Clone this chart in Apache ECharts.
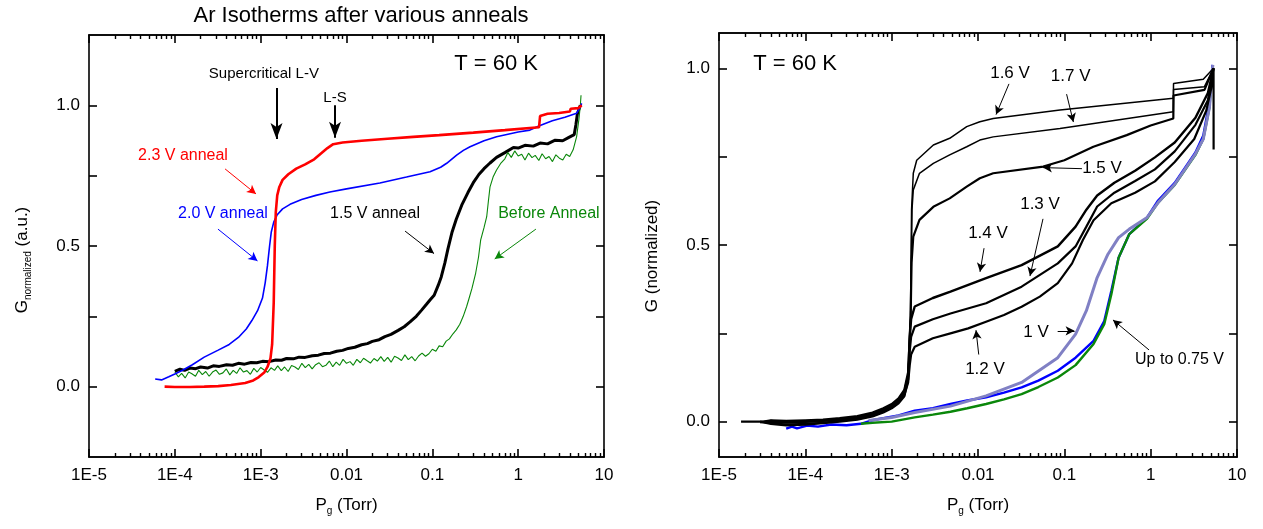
<!DOCTYPE html>
<html>
<head>
<meta charset="utf-8">
<title>Ar isotherms</title>
<script src="https://cdn.jsdelivr.net/npm/echarts@6/dist/echarts.min.js"></script>
<style>
  html, body { margin: 0; padding: 0; background: #fff; }
  #chart { width: 1263px; height: 529px; }
</style>
</head>
<body>
<div id="chart"></div>
<script>
// ---- tick labels ----
const DECADE_LABELS = ['1E-5', '1E-4', '1E-3', '0.01', '0.1', '1', '10'];
const G_TICKS = [0, 0.25, 0.5, 0.75, 1.0];
const G_LABELS = [0, 0.5, 1.0];

// ---- left panel: isotherms after anneals, [P (Torr), G normalized] ----
const anneal23 = [[7.6e-5,0.0],[1.0e-4,-0.001],[1.5e-4,-0.001],[2.2e-4,0.0],[3.2e-4,0.002],[4.5e-4,0.006],[6.6e-4,0.013],[8.2e-4,0.022],[9.5e-4,0.034],[1.1e-3,0.05],[1.2e-3,0.07],[1.3e-3,0.1],[1.36e-3,0.15],[1.42e-3,0.3],[1.46e-3,0.5],[1.5e-3,0.62],[1.56e-3,0.68],[1.65e-3,0.71],[1.8e-3,0.735],[2.1e-3,0.755],[2.6e-3,0.775],[3.3e-3,0.79],[4.2e-3,0.808],[5.0e-3,0.828],[6.0e-3,0.848],[7.0e-3,0.862],[9.0e-3,0.868],[0.015,0.874],[0.03,0.881],[0.06,0.888],[0.12,0.894],[0.3,0.903],[0.7,0.912],[1.75,0.922],[1.8,0.962],[2.2,0.97],[3.0,0.973],[4.0,0.978],[4.1,0.988],[5.0,0.99],[5.5,1.0]];
const anneal20 = [[5.9e-5,0.027],[7e-5,0.024],[8.5e-5,0.035],[1.0e-4,0.045],[1.26e-4,0.06],[1.6e-4,0.078],[2.2e-4,0.105],[3.2e-4,0.13],[4.3e-4,0.15],[5.5e-4,0.175],[6.8e-4,0.205],[7.9e-4,0.235],[9.2e-4,0.27],[1.05e-3,0.315],[1.13e-3,0.37],[1.2e-3,0.43],[1.27e-3,0.5],[1.33e-3,0.55],[1.42e-3,0.585],[1.55e-3,0.61],[1.8e-3,0.632],[2.2e-3,0.648],[3.0e-3,0.665],[4.4e-3,0.68],[6.4e-3,0.692],[0.01,0.703],[0.0245,0.724],[0.05,0.745],[0.094,0.764],[0.125,0.78],[0.147,0.794],[0.192,0.823],[0.23,0.84],[0.275,0.853],[0.4,0.874],[0.56,0.888],[1.0,0.905],[1.37,0.912],[1.8,0.928],[2.5,0.945],[3.5,0.958],[4.8,0.972],[5.2,0.99],[5.5,1.007]];
const anneal15 = [[1.0e-4,0.054],[1.15e-4,0.062],[1.3e-4,0.058],[1.5e-4,0.066],[1.75e-4,0.064],[2e-4,0.07],[2.4e-4,0.066],[2.8e-4,0.074],[3.3e-4,0.072],[4e-4,0.078],[4.7e-4,0.076],[5.5e-4,0.083],[6.5e-4,0.08],[7.7e-4,0.086],[9e-4,0.085],[1.05e-3,0.09],[1.25e-3,0.089],[1.5e-3,0.095],[1.75e-3,0.094],[2e-3,0.1],[2.4e-3,0.099],[2.8e-3,0.105],[3.3e-3,0.104],[4e-3,0.11],[4.7e-3,0.112],[5.5e-3,0.118],[6.5e-3,0.119],[7.7e-3,0.126],[9e-3,0.129],[0.0105,0.136],[0.0125,0.14],[0.015,0.149],[0.0175,0.153],[0.02,0.161],[0.024,0.167],[0.028,0.178],[0.033,0.186],[0.04,0.2],[0.047,0.213],[0.055,0.23],[0.065,0.25],[0.075,0.272],[0.085,0.292],[0.095,0.31],[0.105,0.325],[0.117,0.36],[0.127,0.39],[0.14,0.44],[0.152,0.49],[0.17,0.55],[0.19,0.595],[0.22,0.645],[0.26,0.69],[0.3,0.725],[0.35,0.755],[0.4,0.775],[0.47,0.795],[0.56,0.815],[0.7,0.832],[0.88,0.85],[1.0,0.848],[1.2,0.858],[1.5,0.855],[1.8,0.866],[2.2,0.863],[2.7,0.876],[3.3,0.874],[4.0,0.888],[4.5,0.896],[4.7,0.93],[4.9,0.97],[5.3,1.0]];
const beforeAnneal = [[1.0e-4,0.052],[1.1e-4,0.035],[1.2e-4,0.047],[1.32e-4,0.031],[1.45e-4,0.052],[1.58e-4,0.046],[1.74e-4,0.037],[1.9e-4,0.058],[2.09e-4,0.043],[2.29e-4,0.054],[2.51e-4,0.037],[2.75e-4,0.052],[3.02e-4,0.059],[3.31e-4,0.044],[3.63e-4,0.049],[3.98e-4,0.063],[4.37e-4,0.042],[4.79e-4,0.058],[5.25e-4,0.047],[5.75e-4,0.067],[6.31e-4,0.052],[6.92e-4,0.057],[7.59e-4,0.044],[8.32e-4,0.065],[9.12e-4,0.052],[1.0e-3,0.068],[1.1e-3,0.059],[1.2e-3,0.051],[1.32e-3,0.067],[1.45e-3,0.058],[1.58e-3,0.074],[1.74e-3,0.057],[1.9e-3,0.07],[2.09e-3,0.054],[2.29e-3,0.075],[2.51e-3,0.07],[2.75e-3,0.061],[3.02e-3,0.083],[3.31e-3,0.068],[3.63e-3,0.079],[3.98e-3,0.063],[4.37e-3,0.078],[4.79e-3,0.085],[5.25e-3,0.071],[5.75e-3,0.076],[6.31e-3,0.091],[6.92e-3,0.071],[7.59e-3,0.087],[8.32e-3,0.076],[9.12e-3,0.097],[0.01,0.083],[0.011,0.089],[0.012,0.076],[0.0132,0.097],[0.0145,0.085],[0.0158,0.101],[0.0174,0.092],[0.019,0.084],[0.0209,0.1],[0.0229,0.091],[0.0251,0.107],[0.0275,0.09],[0.0302,0.104],[0.0331,0.087],[0.0363,0.108],[0.0398,0.102],[0.0437,0.093],[0.0479,0.113],[0.0525,0.096],[0.0575,0.107],[0.0631,0.092],[0.0692,0.109],[0.0759,0.119],[0.0832,0.108],[0.0912,0.117],[0.1,0.133],[0.11,0.126],[0.12,0.145],[0.132,0.142],[0.145,0.162],[0.158,0.17],[0.174,0.188],[0.19,0.202],[0.209,0.222],[0.229,0.25],[0.251,0.285],[0.265,0.309],[0.29,0.35],[0.32,0.404],[0.345,0.46],[0.366,0.522],[0.4,0.565],[0.43,0.604],[0.45,0.66],[0.47,0.71],[0.51,0.745],[0.56,0.77],[0.63,0.795],[0.7,0.81],[0.759,0.832],[0.832,0.815],[0.912,0.838],[1.0,0.82],[1.1,0.826],[1.2,0.806],[1.32,0.83],[1.45,0.814],[1.58,0.822],[1.74,0.804],[1.9,0.828],[2.09,0.81],[2.29,0.818],[2.51,0.8],[2.75,0.824],[3.02,0.812],[3.31,0.806],[3.63,0.826],[3.98,0.818],[4.37,0.842],[4.8,0.889],[5.1,0.95],[5.3,1.0],[5.4,1.036]];

// ---- right panel: isotherms after successive anneal voltages ----
const upTo075Blue = [[6e-5,-0.02],[7e-5,-0.014],[8e-5,-0.019],[1.05e-4,-0.011],[1.4e-4,-0.014],[2e-4,-0.008],[3e-4,-0.01],[4.4e-4,-0.006],[6e-4,0.004],[8e-4,0.01],[1.2e-3,0.018],[1.85e-3,0.031],[3e-3,0.038],[4.8e-3,0.05],[7.5e-3,0.06],[0.0124,0.069],[0.02,0.082],[0.032,0.097],[0.05,0.116],[0.084,0.144],[0.135,0.181],[0.218,0.229],[0.29,0.285],[0.35,0.37],[0.425,0.464],[0.566,0.531],[0.91,0.578],[1.22,0.626],[1.9,0.676],[3.3,0.762],[4.07,0.81],[4.8,0.905],[5.2,1.01]];
const upTo075Green = [[4.4e-4,-0.006],[6e-4,-0.003],[1e-3,0.0],[1.85e-3,0.012],[3e-3,0.02],[4.8e-3,0.028],[7.5e-3,0.038],[0.0124,0.05],[0.02,0.063],[0.032,0.078],[0.05,0.098],[0.084,0.125],[0.135,0.16],[0.218,0.22],[0.29,0.276],[0.35,0.36],[0.425,0.464],[0.566,0.531],[0.91,0.575],[1.22,0.62],[1.9,0.67],[3.3,0.755],[4.07,0.8],[4.8,0.89],[5.2,1.0]];
const anneal1V = [[5.4e-4,0.003],[1e-3,0.012],[1.85e-3,0.026],[4.8e-3,0.044],[0.0124,0.073],[0.032,0.111],[0.084,0.181],[0.135,0.248],[0.18,0.314],[0.24,0.408],[0.32,0.474],[0.425,0.521],[0.566,0.545],[0.91,0.578],[1.22,0.62],[1.9,0.672],[3.3,0.758],[4.07,0.8],[4.8,0.89],[5.25,1.01]];
const anneal12V = [[1.8e-5,0.0],[3e-5,0.0],[4e-5,-0.004],[6e-5,-0.008],[1e-4,-0.006],[1.6e-4,-0.003],[2.5e-4,0.002],[4e-4,0.008],[6e-4,0.017],[8e-4,0.028],[1e-3,0.04],[1.2e-3,0.055],[1.4e-3,0.075],[1.55e-3,0.11],[1.62e-3,0.16],[1.68e-3,0.19],[1.85e-3,0.212],[3e-3,0.236],[4.8e-3,0.25],[7.7e-3,0.264],[0.0124,0.283],[0.02,0.302],[0.032,0.325],[0.052,0.354],[0.084,0.392],[0.123,0.448],[0.164,0.514],[0.218,0.57],[0.35,0.618],[0.66,0.648],[1.12,0.68],[1.9,0.735],[3.2,0.8],[4.4,0.88],[5.0,0.94],[5.35,1.0],[5.36,0.77]];
const anneal13V = [[3e-5,-0.002],[4e-5,0.002],[6e-5,-0.002],[1e-4,0.0],[1.6e-4,0.003],[2.5e-4,0.006],[4e-4,0.012],[6e-4,0.022],[8e-4,0.034],[1e-3,0.046],[1.2e-3,0.062],[1.4e-3,0.085],[1.55e-3,0.13],[1.62e-3,0.2],[1.68e-3,0.24],[1.85e-3,0.269],[3e-3,0.29],[4.8e-3,0.306],[0.0124,0.335],[0.032,0.382],[0.084,0.448],[0.135,0.496],[0.18,0.552],[0.24,0.609],[0.38,0.648],[0.66,0.681],[1.12,0.714],[1.9,0.765],[3.3,0.84],[4.6,0.91],[5.35,1.0]];
const anneal14V = [[3e-5,0.0],[4e-5,-0.006],[6e-5,-0.01],[1e-4,-0.008],[1.6e-4,-0.004],[2.5e-4,0.0],[4e-4,0.006],[6e-4,0.015],[8e-4,0.026],[1e-3,0.038],[1.2e-3,0.052],[1.4e-3,0.072],[1.55e-3,0.12],[1.62e-3,0.24],[1.68e-3,0.29],[1.85e-3,0.326],[3e-3,0.35],[4.8e-3,0.368],[0.0124,0.406],[0.032,0.443],[0.084,0.496],[0.135,0.552],[0.18,0.6],[0.24,0.64],[0.38,0.676],[0.66,0.71],[1.12,0.748],[1.9,0.79],[3.3,0.86],[4.6,0.93],[5.35,1.0]];
const anneal15V = [[3e-5,-0.001],[4e-5,0.004],[6e-5,0.002],[1e-4,0.004],[1.6e-4,0.006],[2.5e-4,0.01],[4e-4,0.016],[6e-4,0.026],[8e-4,0.038],[1e-3,0.05],[1.2e-3,0.066],[1.4e-3,0.09],[1.55e-3,0.14],[1.66e-3,0.3],[1.7e-3,0.45],[1.78e-3,0.524],[2.1e-3,0.571],[3.04e-3,0.608],[4.7e-3,0.632],[7.4e-3,0.665],[0.0105,0.689],[0.015,0.703],[0.057,0.722],[0.1,0.74],[0.217,0.778],[0.528,0.811],[1.0,0.838],[1.83,0.858],[1.84,0.923],[4.2,0.939],[5.35,1.0]];
const anneal16V = [[4e-5,-0.002],[6e-5,-0.004],[1e-4,-0.002],[1.6e-4,0.001],[2.5e-4,0.005],[4e-4,0.011],[6e-4,0.02],[8e-4,0.031],[1e-3,0.043],[1.2e-3,0.058],[1.4e-3,0.08],[1.55e-3,0.12],[1.65e-3,0.3],[1.7e-3,0.6],[1.78e-3,0.703],[1.95e-3,0.74],[3.04e-3,0.783],[4.7e-3,0.802],[7.4e-3,0.835],[0.0105,0.849],[0.015,0.858],[0.089,0.882],[1.83,0.915],[1.84,0.957],[4.07,0.969],[5.35,1.0]];
const anneal17V = [[4e-5,0.001],[6e-5,-0.002],[1e-4,0.001],[1.6e-4,0.004],[2.5e-4,0.008],[4e-4,0.014],[6e-4,0.024],[8e-4,0.036],[1e-3,0.048],[1.2e-3,0.064],[1.4e-3,0.088],[1.55e-3,0.13],[1.66e-3,0.3],[1.72e-3,0.6],[1.78e-3,0.656],[2.1e-3,0.703],[3.04e-3,0.731],[4.7e-3,0.755],[7.4e-3,0.778],[0.0105,0.797],[0.015,0.806],[0.089,0.83],[1.83,0.877],[1.84,0.94],[4.2,0.948],[5.35,1.0]];

// ---- annotations (positions in data units: [P, G]) ----
const leftNotes = {
  black: [
    { text: 'Supercritical L-V', at: [1.09e-3, 1.111], size: 15 },
    { text: 'L-S', at: [7.35e-3, 1.028], size: 15 },
    { text: '1.5 V anneal', at: [0.0215, 0.614], size: 16 },
    { text: 'T = 60 K', at: [0.552, 1.147], size: 22 }
  ],
  red: [{ text: '2.3 V anneal', at: [1.245e-4, 0.82], size: 16 }],
  blue: [{ text: '2.0 V anneal', at: [3.64e-4, 0.614], size: 16 }],
  green: [{ text: 'Before Anneal', at: [2.28, 0.614], size: 16 }]
};
const leftArrows = {
  black: [
    { from: [1.53e-3, 1.062], to: [1.53e-3, 0.88], width: 2, head: [9, 16] },
    { from: [7.35e-3, 1.0], to: [7.35e-3, 0.885], width: 2, head: [9, 16] },
    { from: [0.0481, 0.553], to: [0.1047, 0.473], width: 1, head: [7, 9] }
  ],
  red: [{ from: [3.85e-4, 0.774], to: [8.83e-4, 0.685], width: 1, head: [7, 9] }],
  blue: [{ from: [3.18e-4, 0.56], to: [9.18e-4, 0.447], width: 1, head: [7, 9] }],
  green: [{ from: [1.61, 0.56], to: [0.533, 0.454], width: 1, head: [7, 9] }]
};
const rightNotes = [
  { text: 'T = 60 K', at: [7.6e-5, 1.012], size: 22 },
  { text: '1.6 V', at: [0.0235, 0.987], size: 17 },
  { text: '1.7 V', at: [0.1183, 0.978], size: 17 },
  { text: '1.5 V', at: [0.273, 0.718], size: 17 },
  { text: '1.3 V', at: [0.0523, 0.616], size: 17 },
  { text: '1.4 V', at: [0.01306, 0.534], size: 17 },
  { text: '1.2 V', at: [0.01205, 0.149], size: 17 },
  { text: '1 V', at: [0.047, 0.254], size: 17 },
  { text: 'Up to 0.75 V', at: [2.16, 0.177], size: 16 }
];
const rightArrows = [
  { from: [0.02285, 0.956], to: [0.01618, 0.869] },
  { from: [0.1062, 0.927], to: [0.1273, 0.848] },
  { from: [0.160, 0.716], to: [0.0566, 0.719] },
  { from: [0.0566, 0.574], to: [0.04, 0.412] },
  { from: [0.01175, 0.491], to: [0.01055, 0.424] },
  { from: [0.0102, 0.19], to: [0.00948, 0.259] },
  { from: [0.0837, 0.257], to: [0.1315, 0.257] },
  { from: [0.957, 0.203], to: [0.366, 0.288] }
];

const FONT = '"Liberation Sans", Arial, Helvetica, sans-serif';
const COLORS = { red: '#ff0000', blue: '#0000ff', green: '#0a870a', black: '#000000', lavender: '#8080c4' };

// in-decade tick positions (2..9 of each decade), in Torr
const MINOR_P = [];
for (let d = -5; d < 1; d++) {
  for (let k = 2; k <= 9; k++) MINOR_P.push(+(k * Math.pow(10, d)).toPrecision(3));
}

function markPointsFor(notes, color) {
  return {
    symbol: 'circle', symbolSize: 1, silent: true, animation: false,
    itemStyle: { color: 'rgba(0,0,0,0)' },
    label: { show: true, position: 'inside' },
    data: notes.map(n => ({
      coord: n.at,
      label: { formatter: n.text, color: color, fontSize: n.size, fontFamily: FONT }
    }))
  };
}
function markLinesFor(arrows, color) {
  return {
    symbol: ['none', 'arrow'], silent: true, animation: false,
    label: { show: false },
    emphasis: { disabled: true },
    data: arrows.map(a => [
      { coord: a.from, symbol: 'none', lineStyle: { color: color, width: a.width || 1, type: 'solid' } },
      { coord: a.to, symbol: 'arrow', symbolSize: a.head || [7, 9] }
    ])
  };
}

const NAME_RICH = {
  a: { fontSize: 17, fontFamily: FONT, color: '#000', lineHeight: 22 },
  s: { fontSize: 10, fontFamily: FONT, color: '#000', verticalAlign: 'bottom', lineHeight: 10 }
};
const TICK_STYLE = { color: '#000', width: 1.6 };

// decade ticks and labels; these axes carry the data
function logAxis(gridIndex, position, showLabels, showName) {
  return {
    type: 'log', logBase: 10, gridIndex, position,
    min: 1e-5, max: 10,
    name: showName ? '{a|P}{s|g}{a| (Torr)}' : '',
    nameLocation: 'middle', nameGap: 37,
    nameTextStyle: { rich: NAME_RICH },
    axisLine: { show: true, onZero: false, lineStyle: { color: '#000', width: 1.6 } },
    axisTick: { show: true, inside: true, length: 8, lineStyle: TICK_STYLE },
    minorTick: { show: false },
    splitLine: { show: false }, minorSplitLine: { show: false },
    axisLabel: {
      show: showLabels, margin: 10, color: '#000', fontSize: 17, fontFamily: FONT,
      showMinLabel: true, showMaxLabel: true,
      formatter: v => DECADE_LABELS[Math.round(Math.log10(v)) + 5]
    }
  };
}
// companion log axis that only carries the short in-decade ticks
function minorAxis(gridIndex, position) {
  return {
    type: 'log', logBase: 10, gridIndex, position,
    min: 1e-5, max: 10,
    axisLine: { show: true, onZero: false, lineStyle: { color: '#000', width: 1.6 } },
    axisTick: { show: true, inside: true, length: 4, customValues: MINOR_P, lineStyle: { color: '#000', width: 1.4 } },
    axisLabel: { show: false },
    splitLine: { show: false }
  };
}
function gAxis(gridIndex, position, min, max, name, shift) {
  return {
    type: 'value', gridIndex, position, min, max,
    name: name || '', nameLocation: 'middle', nameGap: 56,
    nameTextStyle: { rich: NAME_RICH, padding: [0, shift || 0, 0, 0] },
    axisLine: { show: true, onZero: false, lineStyle: { color: '#000', width: 1.6 } },
    axisTick: { show: true, inside: true, length: 8, customValues: G_TICKS, lineStyle: TICK_STYLE },
    splitLine: { show: false },
    axisLabel: {
      show: position === 'left', margin: 9, color: '#000', fontSize: 17, fontFamily: FONT,
      customValues: G_LABELS, formatter: v => v.toFixed(1)
    }
  };
}

function curve(name, data, xi, yi, color, width, extra) {
  return Object.assign({
    name, type: 'line', data, xAxisIndex: xi, yAxisIndex: yi,
    showSymbol: false, symbol: 'none', animation: false, silent: true,
    lineStyle: { color, width }, itemStyle: { color }, z: 2
  }, extra || {});
}

const chart = echarts.init(document.getElementById('chart'), null, { renderer: 'canvas' });
chart.setOption({
  backgroundColor: '#fff',
  animation: false,
  title: {
    text: 'Ar Isotherms after various anneals',
    left: 356, top: 0, textAlign: 'center',
    textStyle: { fontSize: 22, fontWeight: 'normal', color: '#000', fontFamily: FONT }
  },
  grid: [
    { left: 89, top: 35, width: 515, height: 422 },
    { left: 719, top: 33, width: 518, height: 424 }
  ],
  xAxis: [
    logAxis(0, 'bottom', true, true),
    logAxis(0, 'top', false, false),
    logAxis(1, 'bottom', true, true),
    logAxis(1, 'top', false, false),
    minorAxis(0, 'bottom'),
    minorAxis(0, 'top'),
    minorAxis(1, 'bottom'),
    minorAxis(1, 'top')
  ],
  yAxis: [
    gAxis(0, 'left', -0.25, 1.25, '{a|G}{s|normalized}{a| (a.u.)}', 28),
    gAxis(0, 'right', -0.25, 1.25),
    gAxis(1, 'left', -0.1, 1.1, '{a|G (normalized)}', 22),
    gAxis(1, 'right', -0.1, 1.1)
  ],
  series: [
    curve('1.5 V anneal', anneal15, 0, 0, COLORS.black, 3, {
      markPoint: markPointsFor(leftNotes.black, COLORS.black),
      markLine: markLinesFor(leftArrows.black, COLORS.black)
    }),
    curve('Before Anneal', beforeAnneal, 0, 0, COLORS.green, 1.1, {
      markPoint: markPointsFor(leftNotes.green, COLORS.green),
      markLine: markLinesFor(leftArrows.green, COLORS.green)
    }),
    curve('2.0 V anneal', anneal20, 0, 0, COLORS.blue, 1.6, {
      markPoint: markPointsFor(leftNotes.blue, COLORS.blue),
      markLine: markLinesFor(leftArrows.blue, COLORS.blue)
    }),
    curve('2.3 V anneal', anneal23, 0, 0, COLORS.red, 2.6, {
      markPoint: markPointsFor(leftNotes.red, COLORS.red),
      markLine: markLinesFor(leftArrows.red, COLORS.red)
    }),

    curve('Up to 0.75 V (a)', upTo075Blue, 2, 2, COLORS.blue, 2.4),
    curve('Up to 0.75 V (b)', upTo075Green, 2, 2, COLORS.green, 2.4),
    curve('1 V', anneal1V, 2, 2, COLORS.lavender, 3),
    curve('1.2 V', anneal12V, 2, 2, COLORS.black, 2.2),
    curve('1.3 V', anneal13V, 2, 2, COLORS.black, 2.2),
    curve('1.4 V', anneal14V, 2, 2, COLORS.black, 2.4),
    curve('1.5 V', anneal15V, 2, 2, COLORS.black, 2.2),
    curve('1.7 V', anneal17V, 2, 2, COLORS.black, 1.5),
    curve('1.6 V', anneal16V, 2, 2, COLORS.black, 1.5, {
      markPoint: markPointsFor(rightNotes, COLORS.black),
      markLine: markLinesFor(rightArrows, COLORS.black)
    })
  ]
});
</script>
</body>
</html>
